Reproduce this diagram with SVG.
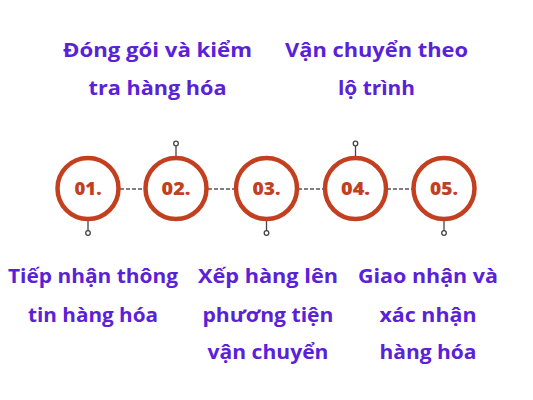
<svg xmlns="http://www.w3.org/2000/svg" width="533" height="400" viewBox="0 0 533 400">
<style>
.lbl{font-family:"Open Sans","Liberation Sans",sans-serif;font-weight:700;font-size:20px;fill:#5a22d8;text-anchor:middle}
.num{font-family:"Open Sans","Liberation Sans",sans-serif;font-weight:800;font-size:17.5px;fill:#c2401f;text-anchor:middle}
.ring{fill:#fff;stroke:#c2401f;stroke-width:4.5}
.stem{stroke:#444;stroke-width:1.3;fill:none}
.dot{fill:#fff;stroke:#444;stroke-width:1.3}
.dash{stroke:#555;stroke-width:1.5;stroke-dasharray:4 2;fill:none}
</style>
<rect width="533" height="400" fill="#fff"/>
<g id="connectors">
<line class="dash" x1="120" y1="189" x2="145" y2="189"/>
<line class="dash" x1="208" y1="189" x2="235" y2="189"/>
<line class="dash" x1="298" y1="189" x2="324" y2="189"/>
<line class="dash" x1="387" y1="189" x2="412" y2="189"/>
</g>
<g id="node1">
<line class="stem" x1="88" y1="221" x2="88" y2="231"/>
<circle class="dot" cx="88" cy="233" r="2.3"/>
<circle class="ring" cx="88" cy="188.5" r="30.5"/>
<text class="num" x="88" y="195" textLength="27" lengthAdjust="spacingAndGlyphs">01.</text>
<text class="lbl" x="93" y="283" textLength="170" lengthAdjust="spacingAndGlyphs">Tiếp nhận thông</text>
<text class="lbl" x="93" y="322" textLength="130" lengthAdjust="spacingAndGlyphs">tin hàng hóa</text>
</g>
<g id="node2">
<line class="stem" x1="176" y1="146" x2="176" y2="156"/>
<circle class="dot" cx="176" cy="143.5" r="2.3"/>
<circle class="ring" cx="176" cy="188.5" r="30.5"/>
<text class="num" x="176" y="195" textLength="29" lengthAdjust="spacingAndGlyphs">02.</text>
<text class="lbl" x="157.5" y="57" textLength="189" lengthAdjust="spacingAndGlyphs">Đóng gói và kiểm</text>
<text class="lbl" x="157.5" y="95" textLength="138" lengthAdjust="spacingAndGlyphs">tra hàng hóa</text>
</g>
<g id="node3">
<line class="stem" x1="266.5" y1="221" x2="266.5" y2="231"/>
<circle class="dot" cx="266.5" cy="233" r="2.3"/>
<circle class="ring" cx="266.5" cy="188.5" r="30.5"/>
<text class="num" x="266.5" y="195" textLength="28" lengthAdjust="spacingAndGlyphs">03.</text>
<text class="lbl" x="268" y="283" textLength="140" lengthAdjust="spacingAndGlyphs">Xếp hàng lên</text>
<text class="lbl" x="268" y="322" textLength="131" lengthAdjust="spacingAndGlyphs">phương tiện</text>
<text class="lbl" x="268" y="359" textLength="121" lengthAdjust="spacingAndGlyphs">vận chuyển</text>
</g>
<g id="node4">
<line class="stem" x1="355.5" y1="146" x2="355.5" y2="156"/>
<circle class="dot" cx="355.5" cy="143.5" r="2.3"/>
<circle class="ring" cx="355.5" cy="188.5" r="30.5"/>
<text class="num" x="355.5" y="195" textLength="29" lengthAdjust="spacingAndGlyphs">04.</text>
<text class="lbl" x="376.5" y="57" textLength="183" lengthAdjust="spacingAndGlyphs">Vận chuyển theo</text>
<text class="lbl" x="376.5" y="95" textLength="77" lengthAdjust="spacingAndGlyphs">lộ trình</text>
</g>
<g id="node5">
<line class="stem" x1="444" y1="221" x2="444" y2="231"/>
<circle class="dot" cx="444" cy="233" r="2.3"/>
<circle class="ring" cx="444" cy="188.5" r="30.5"/>
<text class="num" x="444" y="195" textLength="28" lengthAdjust="spacingAndGlyphs">05.</text>
<text class="lbl" x="428" y="283" textLength="140" lengthAdjust="spacingAndGlyphs">Giao nhận và</text>
<text class="lbl" x="428" y="322" textLength="97" lengthAdjust="spacingAndGlyphs">xác nhận</text>
<text class="lbl" x="428" y="359" textLength="97" lengthAdjust="spacingAndGlyphs">hàng hóa</text>
</g>
</svg>
